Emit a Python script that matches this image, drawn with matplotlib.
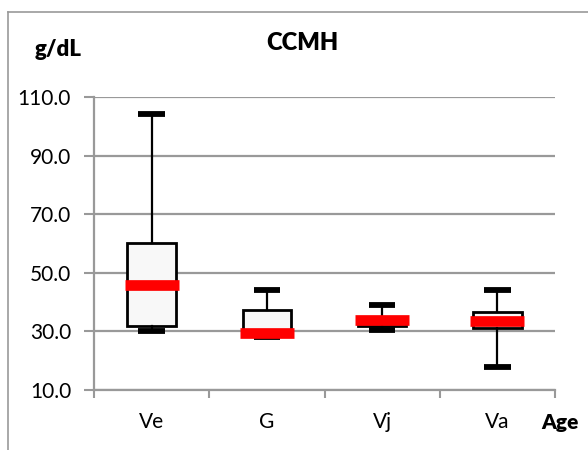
import matplotlib
matplotlib.use("Agg")
import matplotlib.pyplot as plt
from matplotlib.lines import Line2D

categories = ["Ve", "G", "Vj", "Va"]
whisker_low = [30.0, 28.0, 30.4, 18.0]
q1 = [31.8, 29.0, 32.0, 31.2]
median = [46.0, 29.3, 34.0, 33.4]
q3 = [60.2, 37.2, 35.0, 36.5]
whisker_high = [104.2, 44.2, 39.0, 44.2]
yticks = [10.0, 30.0, 50.0, 70.0, 90.0, 110.0]

plt.rcParams['font.family'] = ['Lato', 'DejaVu Sans']

fig = plt.figure(figsize=(5.88, 4.5), dpi=100)
W, H = 588, 450
ax = fig.add_axes([94 / W, 1 - 390 / H, (555 - 94) / W, (390 - 97) / H])

stats = []
for i, c in enumerate(categories):
    stats.append(dict(label=c, whislo=whisker_low[i], q1=q1[i], med=median[i],
                      q3=q3[i], whishi=whisker_high[i], fliers=[]))

pos = list(range(len(categories)))
ax.bxp(stats, positions=pos, widths=0.42, capwidths=0.23, patch_artist=True,
       showfliers=False,
       boxprops=dict(facecolor='#f8f8f8', edgecolor='black', linewidth=2),
       whiskerprops=dict(color='black', linewidth=1.6),
       capprops=dict(color='black', linewidth=4.2, solid_capstyle='butt'),
       medianprops=dict(linewidth=0), zorder=3)
ax.hlines(median, [p - 0.235 for p in pos], [p + 0.235 for p in pos],
          colors='#ff0000', linewidth=7.7, zorder=4)

ax.set_xlim(-0.5, len(categories) - 0.5)
ax.set_ylim(10, 110)
ax.set_yticks(yticks)
ax.set_yticklabels([f"{v:.1f}" for v in yticks], fontsize=15)
ax.set_xticks(pos)
ax.set_xticklabels(categories, fontsize=15)
ax.set_xticks([p - 0.5 for p in pos] + [len(categories) - 0.5], minor=True)
ax.tick_params(axis='x', which='major', length=0, pad=16)
ax.tick_params(axis='x', which='minor', length=6, width=1.5, color='#999999')
ax.tick_params(axis='y', length=7, width=1.5, color='#999999', pad=9.5)
ax.yaxis.grid(True, color='#999999', linewidth=1.6, zorder=0)
ax.set_axisbelow(True)
for s in ['top', 'right']:
    ax.spines[s].set_visible(False)
for s in ['left', 'bottom']:
    ax.spines[s].set_color('#999999')
    ax.spines[s].set_linewidth(1.6)

fig.text(302 / W, 1 - 43 / H, "CCMH", fontsize=17, fontweight='heavy', ha='center', va='center')
fig.text(58 / W, 1 - 50 / H, "g/dL", fontsize=16, fontweight='heavy', ha='center', va='center')
fig.text(560 / W, 1 - 423 / H, "Age", fontsize=15, fontweight='heavy', ha='center', va='center')

fig.add_artist(Line2D([8 / W, 8 / W], [0, 1 - 12 / H], color='#999999', linewidth=1.2,
                      transform=fig.transFigure))
fig.add_artist(Line2D([8 / W, 1], [1 - 12 / H, 1 - 12 / H], color='#999999', linewidth=1.2,
                      transform=fig.transFigure))

fig.savefig("out.png", dpi=100)
